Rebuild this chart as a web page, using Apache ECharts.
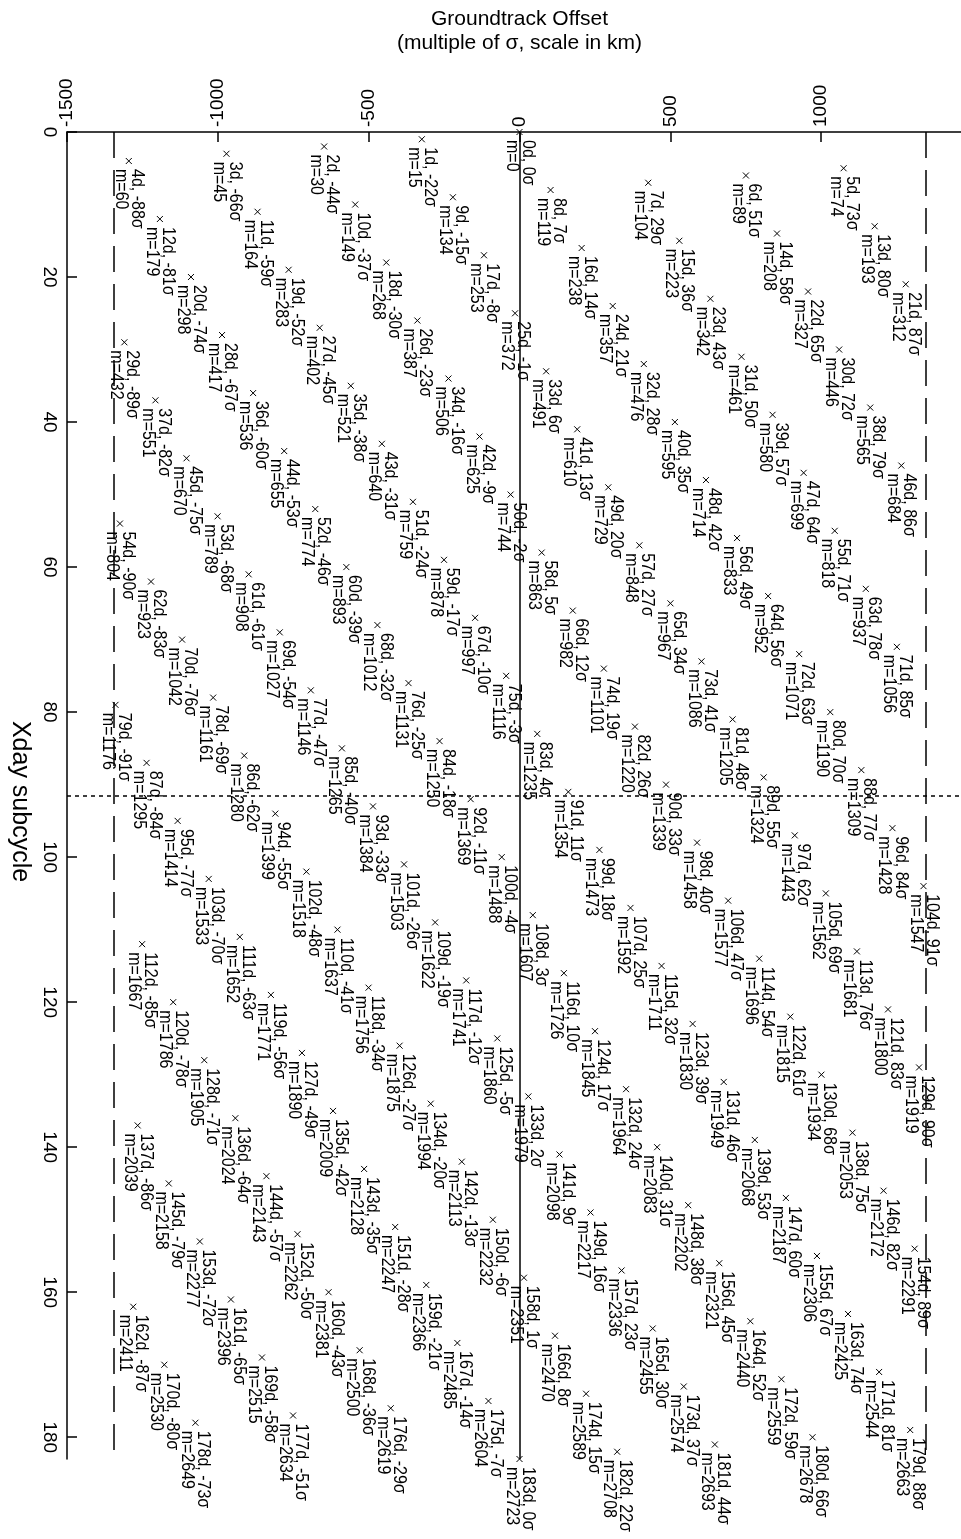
<!DOCTYPE html>
<html>
<head>
<meta charset="utf-8">
<script src="https://cdn.jsdelivr.net/npm/echarts@6/dist/echarts.min.js"></script>
<style>
  html, body { margin: 0; padding: 0; background: #fff; }
  #chart { width: 961px; height: 1539px; }
</style>
</head>
<body>
<div id="chart"></div>
<script>
// Day of the subcycle for each groundtrack
const days = [
  0, 1, 2, 3, 4, 5, 6, 7, 8, 9,
  10, 11, 12, 13, 14, 15, 16, 17, 18, 19,
  20, 21, 22, 23, 24, 25, 26, 27, 28, 29,
  30, 31, 32, 33, 34, 35, 36, 37, 38, 39,
  40, 41, 42, 43, 44, 45, 46, 47, 48, 49,
  50, 51, 52, 53, 54, 55, 56, 57, 58, 59,
  60, 61, 62, 63, 64, 65, 66, 67, 68, 69,
  70, 71, 72, 73, 74, 75, 76, 77, 78, 79,
  80, 81, 82, 83, 84, 85, 86, 87, 88, 89,
  90, 91, 92, 93, 94, 95, 96, 97, 98, 99,
  100, 101, 102, 103, 104, 105, 106, 107, 108, 109,
  110, 111, 112, 113, 114, 115, 116, 117, 118, 119,
  120, 121, 122, 123, 124, 125, 126, 127, 128, 129,
  130, 131, 132, 133, 134, 135, 136, 137, 138, 139,
  140, 141, 142, 143, 144, 145, 146, 147, 148, 149,
  150, 151, 152, 153, 154, 155, 156, 157, 158, 159,
  160, 161, 162, 163, 164, 165, 166, 167, 168, 169,
  170, 171, 172, 173, 174, 175, 176, 177, 178, 179,
  180, 181, 182, 183
];

// Offset of that day's groundtrack, in multiples of sigma
const sigmaOffsets = [
  0, -22, -44, -66, -88, 73, 51, 29, 7, -15,
  -37, -59, -81, 80, 58, 36, 14, -8, -30, -52,
  -74, 87, 65, 43, 21, -1, -23, -45, -67, -89,
  72, 50, 28, 6, -16, -38, -60, -82, 79, 57,
  35, 13, -9, -31, -53, -75, 86, 64, 42, 20,
  -2, -24, -46, -68, -90, 71, 49, 27, 5, -17,
  -39, -61, -83, 78, 56, 34, 12, -10, -32, -54,
  -76, 85, 63, 41, 19, -3, -25, -47, -69, -91,
  70, 48, 26, 4, -18, -40, -62, -84, 77, 55,
  33, 11, -11, -33, -55, -77, 84, 62, 40, 18,
  -4, -26, -48, -70, 91, 69, 47, 25, 3, -19,
  -41, -63, -85, 76, 54, 32, 10, -12, -34, -56,
  -78, 83, 61, 39, 17, -5, -27, -49, -71, 90,
  68, 46, 24, 2, -20, -42, -64, -86, 75, 53,
  31, 9, -13, -35, -57, -79, 82, 60, 38, 16,
  -6, -28, -50, -72, 89, 67, 45, 23, 1, -21,
  -43, -65, -87, 74, 52, 30, 8, -14, -36, -58,
  -80, 81, 59, 37, 15, -7, -29, -51, -73, 88,
  66, 44, 22, 0
];

// Revolution number m reached on that day
const revolutions = [
  0, 15, 30, 45, 60, 74, 89, 104, 119, 134,
  149, 164, 179, 193, 208, 223, 238, 253, 268, 283,
  298, 312, 327, 342, 357, 372, 387, 402, 417, 432,
  446, 461, 476, 491, 506, 521, 536, 551, 565, 580,
  595, 610, 625, 640, 655, 670, 684, 699, 714, 729,
  744, 759, 774, 789, 804, 818, 833, 848, 863, 878,
  893, 908, 923, 937, 952, 967, 982, 997, 1012, 1027,
  1042, 1056, 1071, 1086, 1101, 1116, 1131, 1146, 1161, 1176,
  1190, 1205, 1220, 1235, 1250, 1265, 1280, 1295, 1309, 1324,
  1339, 1354, 1369, 1384, 1399, 1414, 1428, 1443, 1458, 1473,
  1488, 1503, 1518, 1533, 1547, 1562, 1577, 1592, 1607, 1622,
  1637, 1652, 1667, 1681, 1696, 1711, 1726, 1741, 1756, 1771,
  1786, 1800, 1815, 1830, 1845, 1860, 1875, 1890, 1905, 1919,
  1934, 1949, 1964, 1979, 1994, 2009, 2024, 2039, 2053, 2068,
  2083, 2098, 2113, 2128, 2143, 2158, 2172, 2187, 2202, 2217,
  2232, 2247, 2262, 2277, 2291, 2306, 2321, 2336, 2351, 2366,
  2381, 2396, 2411, 2425, 2440, 2455, 2470, 2485, 2500, 2515,
  2530, 2544, 2559, 2574, 2589, 2604, 2619, 2634, 2649, 2663,
  2678, 2693, 2708, 2723
];

// Axis ticks
const offsetTicksKm = [-1500, -1000, -500, 0, 500, 1000];
const dayTicks = [0, 20, 40, 60, 80, 100, 120, 140, 160, 180];

// Equatorial groundtrack spacing: circumference / revolutions per cycle
const SIGMA_KM = 40075 / 2723;
// Edges of the band covered by one day's shift (in sigma)
const bandEdgeSigma = 91.5;
// Half of the 183-day cycle
const halfCycleDay = 91.5;

const points = days.map((d, i) => [sigmaOffsets[i] * SIGMA_KM, d, sigmaOffsets[i], revolutions[i]]);

const FONT = '"Liberation Sans", Arial, sans-serif';
const black = '#000';

const chart = echarts.init(document.getElementById('chart'), null, { renderer: 'canvas' });

chart.setOption({
  animation: false,
  backgroundColor: '#fff',
  grid: { left: 67, top: 132, width: 905, height: 1327, containLabel: false, outerBoundsMode: 'none' },
  xAxis: {
    type: 'value',
    position: 'top',
    min: -1500,
    max: 1500,
    interval: 500,
    name: 'Groundtrack Offset\n(multiple of σ, scale in km)',
    nameLocation: 'middle',
    nameGap: 77,
    nameTextStyle: { fontFamily: FONT, fontSize: 21, lineHeight: 24, color: black },
    axisLine: { show: true, onZero: false, lineStyle: { color: black, width: 1.5 } },
    axisTick: { show: true, inside: true, length: 10, customValues: offsetTicksKm, lineStyle: { color: black, width: 1.5 } },
    axisLabel: {
      show: true, rotate: -90, margin: 5, customValues: offsetTicksKm,
      formatter: (v) => String(v),
      fontFamily: FONT, fontSize: 19, color: black
    },
    splitLine: { show: false }
  },
  yAxis: {
    type: 'value',
    inverse: true,
    min: 0,
    max: 183,
    name: 'Xday subcycle',
    nameLocation: 'middle',
    nameRotate: -90,
    nameGap: 35,
    nameTextStyle: { fontFamily: FONT, fontSize: 25, color: black, padding: [0, 0, 0, 12] },
    axisLine: { show: true, onZero: false, lineStyle: { color: black, width: 1.5 } },
    axisTick: { show: true, inside: true, length: 10, customValues: dayTicks, lineStyle: { color: black, width: 1.5 } },
    axisLabel: {
      show: true, rotate: -90, margin: 8, customValues: dayTicks,
      formatter: (v) => String(v),
      fontFamily: FONT, fontSize: 19, color: black
    },
    splitLine: { show: false }
  },
  series: [
    {
      // zero offset line, band edges and the half-cycle marker
      type: 'line',
      data: [],
      silent: true,
      markLine: {
        silent: true,
        symbol: ['none', 'none'],
        label: { show: false },
        animation: false,
        data: [
          { xAxis: 0, lineStyle: { color: black, width: 1.5, type: 'solid' } },
          { xAxis: -bandEdgeSigma * SIGMA_KM, lineStyle: { color: black, width: 1.5, type: [26, 12] } },
          { xAxis: bandEdgeSigma * SIGMA_KM, lineStyle: { color: black, width: 1.5, type: [26, 12] } },
          { yAxis: halfCycleDay, lineStyle: { color: black, width: 1.5, type: [4, 4] } }
        ]
      }
    },
    {
      type: 'custom',
      coordinateSystem: 'cartesian2d',
      silent: true,
      clip: false,
      data: points,
      renderItem: function (params, api) {
        const p = api.coord([api.value(0), api.value(1)]);
        const d = api.value(1);
        const s = api.value(2);
        const m = api.value(3);
        const r = 3;
        return {
          type: 'group',
          children: [
            { type: 'line', shape: { x1: p[0] - r, y1: p[1] - r, x2: p[0] + r, y2: p[1] + r }, style: { stroke: black, lineWidth: 1 } },
            { type: 'line', shape: { x1: p[0] - r, y1: p[1] + r, x2: p[0] + r, y2: p[1] - r }, style: { stroke: black, lineWidth: 1 } },
            {
              type: 'text',
              x: p[0],
              y: p[1] + 8,
              rotation: -Math.PI / 2,
              scaleY: 1.12,
              style: {
                text: d + 'd, ' + s + 'σ\nm=' + m,
                font: '16px "Liberation Sans", Arial, sans-serif',
                lineHeight: 14.3,
                align: 'left',
                verticalAlign: 'middle',
                fill: black
              }
            }
          ]
        };
      }
    }
  ]
});
</script>
</body>
</html>
